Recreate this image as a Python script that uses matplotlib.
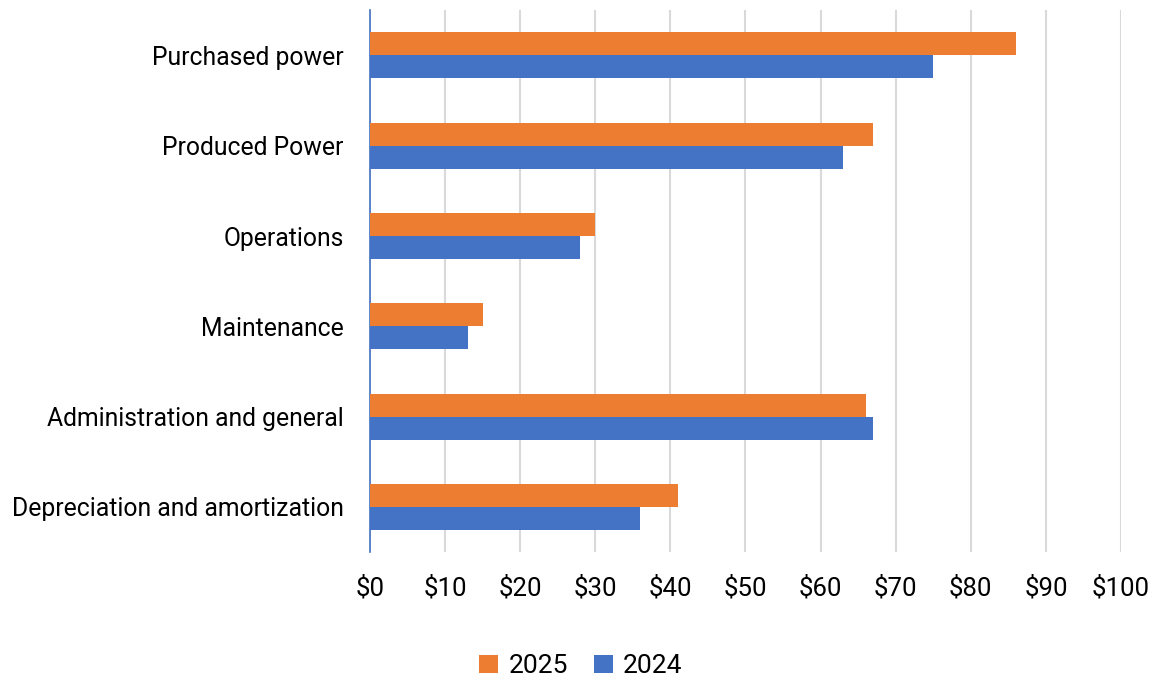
import matplotlib
matplotlib.use('Agg')
import numpy as np
import matplotlib.pyplot as plt
from matplotlib.ticker import FuncFormatter

plt.rcParams['font.family'] = ['Roboto', 'DejaVu Sans']

categories = ['Purchased power', 'Produced Power', 'Operations', 'Maintenance',
              'Administration and general', 'Depreciation and amortization']
values_2025 = [86, 67, 30, 15, 66, 41]
values_2024 = [75, 63, 28, 13, 67, 36]
xticks = [0, 10, 20, 30, 40, 50, 60, 70, 80, 90, 100]

fig = plt.figure(figsize=(11.62, 6.8), dpi=100)
ax = fig.add_axes([0.3184, 0.188, 0.6463, 0.797])

y = np.arange(len(categories))
h = 0.255
ax.barh(y - h / 2, values_2025, height=h, color='#ED7D31', label='2025', zorder=3)
ax.barh(y + h / 2, values_2024, height=h, color='#4472C4', label='2024', zorder=3)

ax.set_ylim(len(categories) - 0.5, -0.5)
ax.set_xlim(0, 100)
ax.set_yticks(y)
ax.set_yticklabels(categories, fontsize=17.8)
ax.set_xticks(xticks)
ax.xaxis.set_major_formatter(FuncFormatter(lambda v, p: '$%d' % v))
ax.tick_params(axis='x', labelsize=18.5, length=0, pad=17)
ax.tick_params(axis='y', length=0, pad=19)

ax.grid(axis='x', color='#D9D9D9', linewidth=1.5, zorder=0)
for s in ['top', 'right', 'bottom']:
    ax.spines[s].set_visible(False)
ax.spines['left'].set_color('#4472C4')
ax.spines['left'].set_linewidth(1.2)

fig.legend(loc='center', bbox_to_anchor=(0.5, 0.02), ncol=2, frameon=False,
           fontsize=19, handlelength=0.7, handleheight=0.7, handletextpad=0.4,
           columnspacing=1.0)

fig.savefig('out.png', dpi=100)
